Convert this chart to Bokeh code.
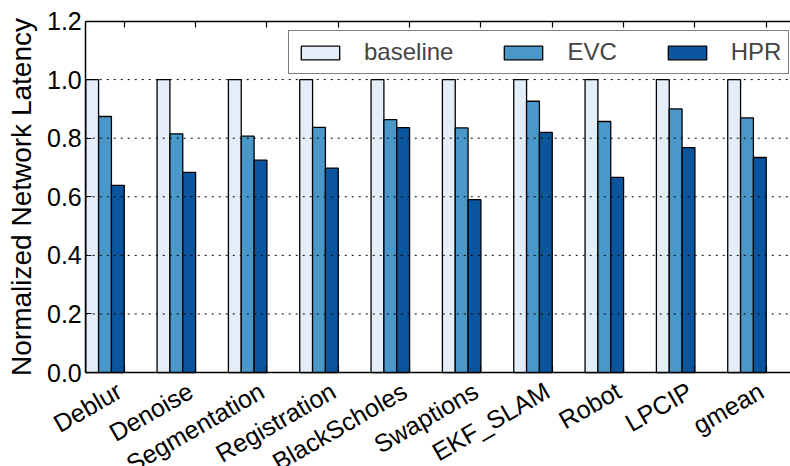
import math
from bokeh.plotting import figure
from bokeh.models import (ColumnDataSource, FixedTicker, LinearAxis, Legend, LegendItem, Range1d, LabelSet)
from bokeh.core.properties import value
from bokeh.embed import file_html
from bokeh.resources import INLINE

categories = ["Deblur", "Denoise", "Segmentation", "Registration", "BlackScholes",
              "Swaptions", "EKF_SLAM", "Robot", "LPCIP", "gmean"]
baseline = [1.0, 1.0, 1.0, 1.0, 1.0, 1.0, 1.0, 1.0, 1.0, 1.0]
evc = [0.874, 0.815, 0.807, 0.837, 0.863, 0.835, 0.926, 0.857, 0.900, 0.869]
hpr = [0.639, 0.683, 0.725, 0.698, 0.836, 0.590, 0.820, 0.666, 0.768, 0.734]
series_names = ["baseline", "EVC", "HPR"]
series_colors = ["#e4eef8", "#4a98c9", "#0b559f"]
y_ticks = [0.0, 0.2, 0.4, 0.6, 0.8, 1.0, 1.2]
y_tick_labels = ["0.0", "0.2", "0.4", "0.6", "0.8", "1.0", "1.2"]

FONT = "Liberation Sans"
BW = 0.18
n = len(categories)
group_x = list(range(n))
tick_x = [g + 3 * BW for g in group_x]
X_LO, X_HI = 0.0, 9.88
Y_LO, Y_HI = 0.0, 1.2

# the frame covers the whole canvas so the rotated labels are not clipped;
# axes are pinned at the data edges with fixed_location
p = figure(width=790, height=466, output_backend="svg", toolbar_location=None,
           x_range=Range1d(-1.195, X_HI), y_range=Range1d(-0.3208, 1.27),
           x_axis_location=None, y_axis_location=None,
           min_border_left=0, min_border_right=0, min_border_top=0, min_border_bottom=0)
p.outline_line_color = None
p.grid.visible = False

renderers = []
for k, (vals, color) in enumerate(zip([baseline, evc, hpr], series_colors)):
    src = ColumnDataSource(dict(x=[g + (k + 0.5) * BW for g in group_x], top=vals))
    r = p.vbar(x="x", top="top", bottom=0, width=BW, source=src,
               fill_color=color, line_color="black", line_width=1.3)
    renderers.append(r)

# dotted horizontal grid over the bars, limited to the plot area
grid_src = ColumnDataSource(dict(y=y_ticks[1:-1], x0=[X_LO] * 5, x1=[X_HI] * 5))
p.segment(x0="x0", x1="x1", y0="y", y1="y", source=grid_src, line_color="black",
          line_dash="2 5", line_width=1, level="annotation")

def spine(loc, bounds, ticks):
    ax = LinearAxis(fixed_location=loc, bounds=bounds, ticker=FixedTicker(ticks=ticks),
                    major_tick_in=6, major_tick_out=0, minor_tick_line_color=None,
                    axis_line_width=1.5, major_tick_line_width=1.2,
                    major_label_text_font_size="1px")
    ax.major_label_overrides = {t: "" for t in ticks}
    return ax

bottom_axis = spine(Y_LO, (X_LO, X_HI), tick_x)
p.add_layout(bottom_axis, "below")
top_axis = spine(Y_HI, (X_LO, X_HI), tick_x)
p.add_layout(top_axis, "above")

left_axis = LinearAxis(fixed_location=X_LO, bounds=(Y_LO, Y_HI), ticker=FixedTicker(ticks=y_ticks),
                       major_tick_in=6, major_tick_out=0, minor_tick_line_color=None,
                       axis_line_width=1.5, major_tick_line_width=1.2,
                       major_label_text_font=FONT, major_label_text_font_size="25px",
                       major_label_text_color="black", major_label_standoff=4,
                       axis_label="Normalized Network Latency", axis_label_text_font=FONT,
                       axis_label_text_font_size="28px", axis_label_text_font_style="normal",
                       axis_label_text_color="black", axis_label_standoff=7)
left_axis.major_label_overrides = {t: l for t, l in zip(y_ticks, y_tick_labels)}
p.add_layout(left_axis, "left")

# rotated category labels
lab_src = ColumnDataSource(dict(x=tick_x, y=[Y_LO] * n, text=categories))
labels = LabelSet(x="x", y="y", text="text", source=lab_src, angle=math.radians(30),
                  text_align="right", text_baseline="top", x_offset=-12, y_offset=-4,
                  text_font=value(FONT), text_font_size=value("25px"), text_color="black")
p.add_layout(labels)

legend = Legend(items=[LegendItem(label=nm, renderers=[r]) for nm, r in zip(series_names, renderers)],
                orientation="horizontal", location=(288, 392),
                glyph_width=48, glyph_height=17, label_standoff=20, spacing=46,
                padding=7, margin=0, label_text_font=FONT, label_text_font_size="24px",
                label_height=17, border_line_color="black", border_line_width=1.5)
p.add_layout(legend, "center")

open("out.html", "w").write(file_html(p, INLINE))
